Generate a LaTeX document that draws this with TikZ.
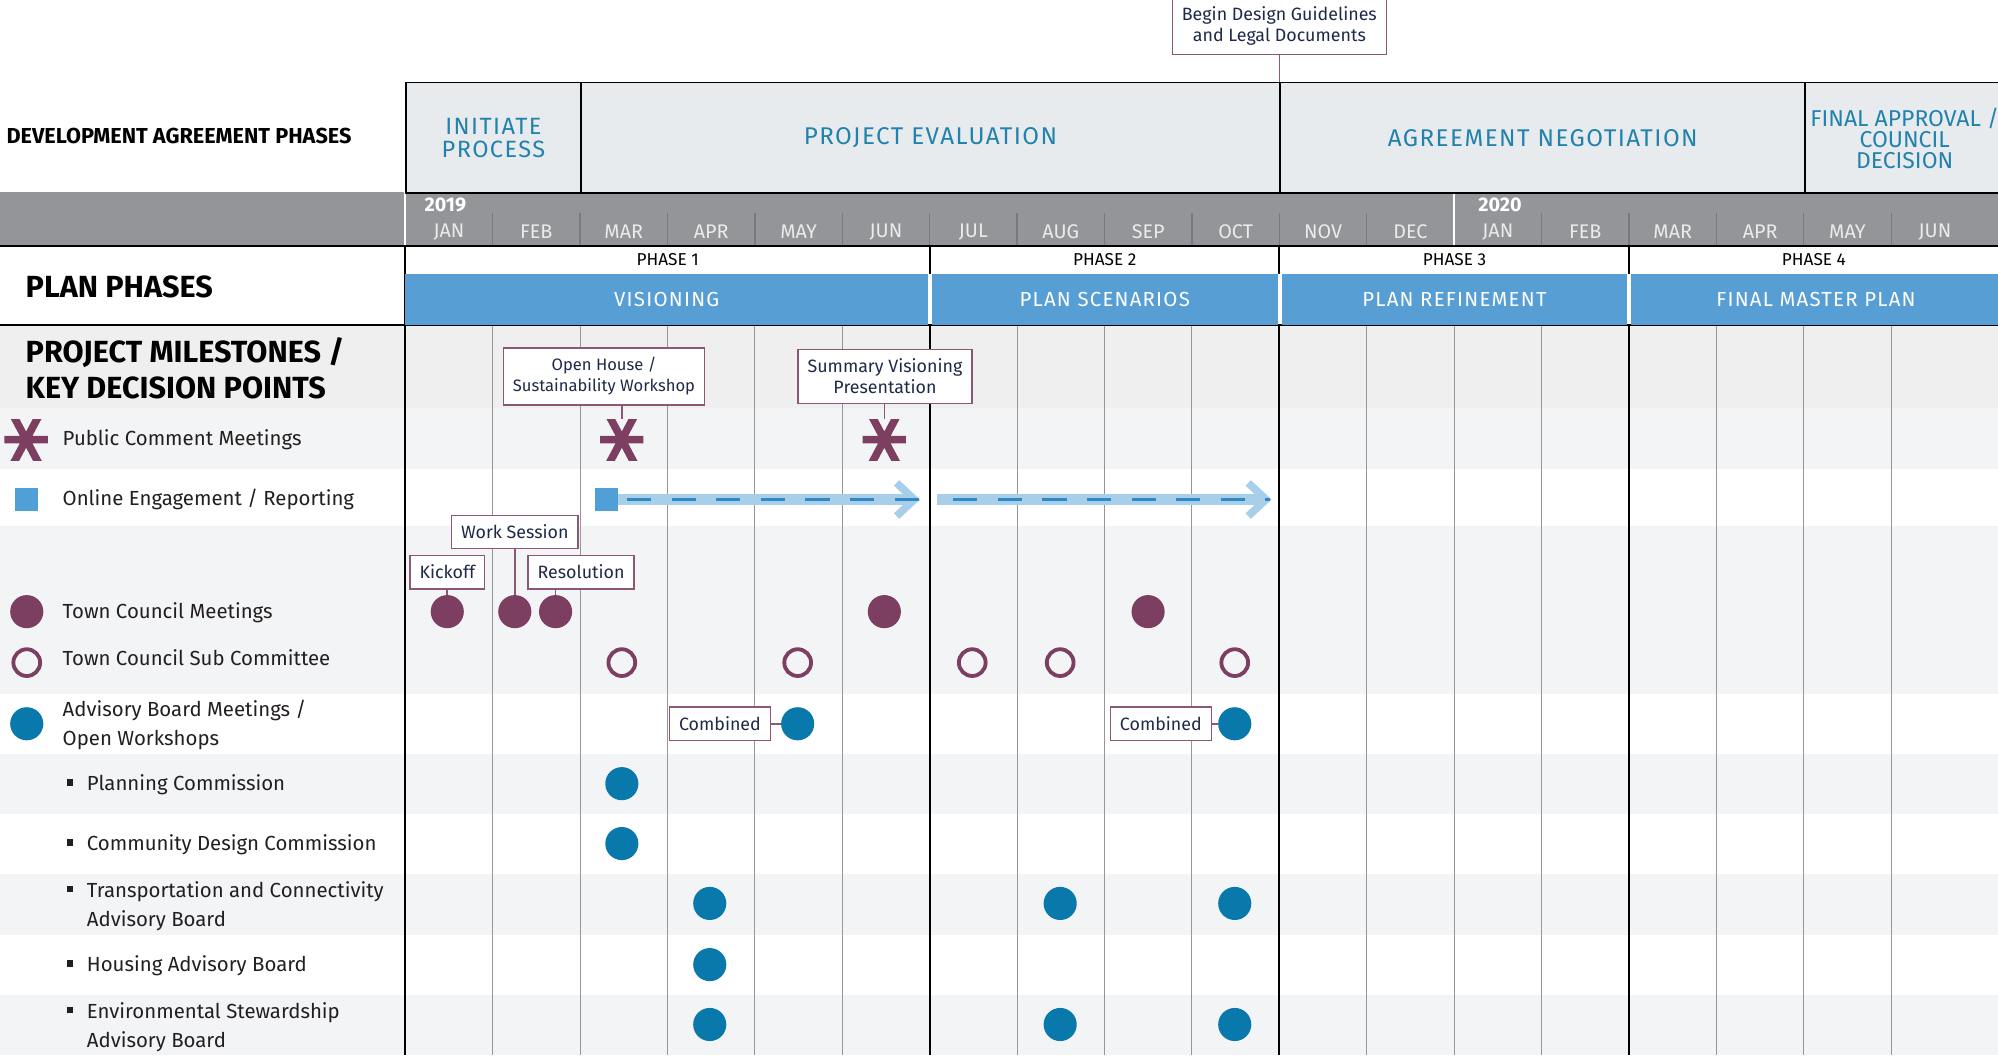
\documentclass[tikz,border=0pt]{standalone}
\usepackage{fontspec}
\setmainfont{Fira Sans}
\newfontfamily\trackfont[LetterSpace=6]{Fira Sans}
\usetikzlibrary{arrows.meta}
\definecolor{plum}{RGB}{124,62,97}
\definecolor{deepteal}{RGB}{8,121,170}
\definecolor{barblue}{RGB}{86,158,211}
\definecolor{sqblue}{RGB}{80,160,215}
\definecolor{paleblue}{RGB}{168,207,234}
\definecolor{dashblue}{RGB}{48,137,196}
\definecolor{bargray}{RGB}{147,149,152}
\definecolor{tickgray}{RGB}{120,122,125}
\definecolor{cellgray}{RGB}{232,235,237}
\definecolor{headteal}{RGB}{33,130,173}
\definecolor{boxline}{RGB}{140,86,118}
\definecolor{navy}{RGB}{30,42,72}
\definecolor{inkblack}{RGB}{35,31,32}
\definecolor{bandA}{RGB}{239,239,240}
\definecolor{bandB}{RGB}{243,244,245}
\definecolor{gridgray}{RGB}{150,150,150}
\newcommand{\fsz}[2]{\fontsize{#1}{#2}\selectfont}
\newcommand{\sqbullet}{\makebox[16pt][l]{\rule[4pt]{5pt}{5pt}}}
\tikzset{
  lblbox/.style = {draw=boxline, line width=1.2pt, fill=white, text=navy,
    font=\fsz{14}{16.5}, align=center, inner xsep=7.5pt, inner ysep=7.5pt},
  leader/.style = {draw=boxline, line width=1.2pt},
  tcdot/.style = {circle, fill=plum, minimum size=26pt, inner sep=0pt},
  subdot/.style = {circle, draw=plum, line width=3pt, minimum size=21pt, inner sep=0pt},
  abdot/.style = {circle, fill=deepteal, minimum size=26pt, inner sep=0pt},
  olsquare/.style = {fill=sqblue, minimum size=18pt, inner sep=0pt},
  starmark/.style = {minimum width=34pt, minimum height=32pt, inner sep=0pt,
    path picture={\draw[plum, line width=6pt,
      shift={(path picture bounding box.center)}]
      (-20,0) -- (20,0) (62:22) -- (242:22) (118:22) -- (298:22);}},
  legtext/.style = {anchor=west, inner sep=0pt, text=inkblack,
    font=\fsz{16}{23}, align=left},
  heading/.style = {anchor=west, inner sep=0pt, text=black,
    font=\bfseries\fsz{24}{28}, align=left},
  devcell/.style = {draw=black, line width=1.5pt, fill=cellgray, text=headteal,
    anchor=north west, minimum height=87pt, inner sep=0pt, align=center},
  monthlbl/.style = {text=white!92!black, font=\fsz{15.5}{17}},
  yearlbl/.style = {text=white, font=\bfseries\fsz{15.5}{17}, anchor=west, inner sep=0pt},
  phaselbl/.style = {text=black, font=\fsz{13.5}{15}},
  planbar/.style = {fill=barblue, text=white, anchor=north west,
    minimum height=40pt, inner sep=0pt, font=\trackfont\fsz{16}{18}},
  oltrail/.style = {paleblue, line width=9pt,
    -{Straight Barb[length=14pt, width=26pt, line width=6pt]}},
  oldash/.style = {dashblue, line width=2.5pt, dash pattern=on 19pt off 16pt},
}

\begin{document}
\begin{tikzpicture}[x=1pt, y=-1pt]
  \useasboundingbox (0,0) rectangle (1568,828);
  \fill[white] (0,0) rectangle (1568,828);

  % row bands
  \fill[bandA] (0,255) rectangle (1568,320);
  \foreach \a/\b in {320/368, 413/545, 592/639, 686/734, 781/828}
    \fill[bandB] (0,\a) rectangle (1568,\b);

  % month bar
  \fill[bargray] (0,151) rectangle (1568,193);
  \foreach \k in {1,...,11,13,14,...,17}
    \draw[tickgray, line width=1pt] (318+68.6*\k,167) -- (318+68.6*\k,193);
  \foreach \k in {0,12}
    \draw[white, line width=2pt] (318+68.6*\k,151) -- (318+68.6*\k,193);
  \node[yearlbl] (y19) at (333,161) {2019};
  \node[yearlbl] (y20) at (1160,161) {2020};
  \foreach \m [count=\i from 0] in {JAN,FEB,MAR,APR,MAY,JUN,JUL,AUG,SEP,OCT,NOV,DEC,JAN,FEB,MAR,APR,MAY,JUN}
    \node[monthlbl] (m\i) at (352.3+68.6*\i,182) {\m};

  % grid
  \foreach \k in {1,...,5,7,8,9,11,12,13,15,16,17}
    \draw[gridgray, line width=0.8pt] (318+68.6*\k,255) -- (318+68.6*\k,828);
  \foreach \k in {6,10,14} {
    \draw[black, line width=1.5pt] (318+68.6*\k,193) -- (318+68.6*\k,215);
    \draw[black, line width=1.5pt] (318+68.6*\k,255) -- (318+68.6*\k,828);
  }
  \draw[black, line width=1.5pt] (318,193) -- (318,828);
  \draw[black, line width=2pt] (0,193) -- (1568,193);
  \draw[black, line width=2pt] (0,255) -- (1568,255);

  % development agreement phases
  \node[devcell, minimum width=137pt, font=\trackfont\fsz{18.5}{18}] (initiate) at (318,64) {INITIATE\\PROCESS};
  \node[devcell, minimum width=549pt, font=\trackfont\fsz{19}{19}] (evaluation) at (455,64) {PROJECT EVALUATION};
  \node[devcell, minimum width=412pt, font=\trackfont\fsz{19}{19}] (negotiation) at (1004,64) {AGREEMENT NEGOTIATION};
  \node[devcell, minimum width=156pt, font=\fsz{18}{16.5}] (approval) at (1416,64) {FINAL APPROVAL /\\COUNCIL\\DECISION};
  \node[lblbox] (design) at (1004,20) {Begin Design Guidelines\\and Legal Documents};
  \coordinate (designfoot) at (1004,64);
  \draw[leader] (design) -- (designfoot);

  % plan phases
  \node[phaselbl] (ph1) at (524,204) {PHASE 1};
  \node[phaselbl] (ph2) at (867,204) {PHASE 2};
  \node[phaselbl] (ph3) at (1141.5,204) {PHASE 3};
  \node[phaselbl] (ph4) at (1423.5,204) {PHASE 4};
  \node[planbar, minimum width=410.1pt] (visioning) at (318,215) {VISIONING};
  \node[planbar, minimum width=271.4pt] (scenarios) at (731.1,215) {PLAN SCENARIOS};
  \node[planbar, minimum width=271.4pt] (refinement) at (1005.5,215) {PLAN REFINEMENT};
  \node[planbar, minimum width=290pt] (masterplan) at (1279.9,215) {FINAL MASTER PLAN};

  % left headings
  \node[heading, font=\bfseries\fsz{17}{18}] (devhead) at (5,107) {DEVELOPMENT AGREEMENT PHASES};
  \node[heading] (planhead) at (20,225) {PLAN PHASES};
  \node[heading] (milehead) at (20,289) {PROJECT MILESTONES /\\KEY DECISION POINTS};

  % public comment meetings
  \node[starmark] (legpc) at (20.5,345) {};
  \node[legtext] (tpc) at (49,345) {Public Comment Meetings};
  \node[starmark] (pc1) at (488,345) {};
  \node[starmark] (pc2) at (694,345) {};
  \node[lblbox, font=\fsz{13}{16.5}] (openhouse) at (474,295.5) {Open House /\\Sustainability Workshop};
  \node[lblbox] (summary) at (694.5,295.5) {Summary Visioning\\Presentation};
  \draw[leader] (openhouse.south -| pc1) -- (pc1);
  \draw[leader] (summary.south -| pc2) -- (pc2);

  % online engagement
  \node[olsquare] (legol) at (21,392) {};
  \node[legtext] (tol) at (49,392) {Online Engagement / Reporting};
  \node[olsquare] (ol) at (476,392) {};
  \coordinate (trail1end) at (722,392);
  \coordinate (trail2start) at (735,392);
  \coordinate (trail2end) at (998,392);
  \coordinate (dash1start) at (492,392);
  \coordinate (dash1end) at (731,392);
  \coordinate (dash2start) at (748,392);
  \coordinate (dash2end) at (997,392);
  \draw[oltrail] (ol.east) -- (trail1end);
  \draw[oltrail] (trail2start) -- (trail2end);
  \draw[oldash] (dash1start) -- (dash1end);
  \draw[oldash] (dash2start) -- (dash2end);

  % town council
  \node[tcdot] (legtc) at (21,480) {};
  \node[legtext] (ttc) at (49,481) {Town Council Meetings};
  \node[tcdot] (tc1) at (351,480) {};
  \node[tcdot] (tc2) at (404,480) {};
  \node[tcdot] (tc3) at (436,480) {};
  \node[tcdot] (tc4) at (694,480) {};
  \node[tcdot] (tc5) at (901,480) {};
  \node[lblbox] (kickoff) at (351,449) {Kickoff};
  \node[lblbox] (worksession) at (404,417.5) {Work Session};
  \node[lblbox] (resolution) at (456,449) {Resolution};
  \draw[leader] (kickoff) -- (tc1);
  \draw[leader] (worksession) -- (tc2);
  \draw[leader] (resolution.south -| tc3) -- (tc3);

  % sub committee
  \node[subdot] (legsub) at (21,520) {};
  \node[legtext] (tsub) at (49,516) {Town Council Sub Committee};
  \foreach \x [count=\i] in {488,626,763,832,969}
    \node[subdot] (sub\i) at (\x,520) {};

  % advisory boards
  \node[abdot] (legab) at (21,568) {};
  \node[legtext] (tab) at (49,569) {Advisory Board Meetings /\\Open Workshops};
  \node[abdot] (ab1) at (626,568) {};
  \node[abdot] (ab2) at (969,568) {};
  \node[lblbox] (combined1) at (565,568) {Combined};
  \node[lblbox] (combined2) at (911,568) {Combined};
  \draw[leader] (combined1) -- (ab1);
  \draw[leader] (combined2) -- (ab2);

  \node[legtext] (tplan) at (52,616) {\sqbullet Planning Commission};
  \node[abdot] (plan1) at (488,615) {};
  \node[legtext] (tcdc) at (52,663) {\sqbullet Community Design Commission};
  \node[abdot] (cdc1) at (488,662) {};
  \node[legtext] (ttrans) at (52,711) {\sqbullet Transportation and Connectivity\\\hspace*{16pt}Advisory Board};
  \foreach \x [count=\i] in {557,832,969}
    \node[abdot] (trans\i) at (\x,709) {};
  \node[legtext] (thouse) at (52,758) {\sqbullet Housing Advisory Board};
  \node[abdot] (house1) at (557,757) {};
  \node[legtext] (tenv) at (52,806) {\sqbullet Environmental Stewardship\\\hspace*{16pt}Advisory Board};
  \foreach \x [count=\i] in {557,832,969}
    \node[abdot] (env\i) at (\x,804) {};
\end{tikzpicture}
\end{document}
